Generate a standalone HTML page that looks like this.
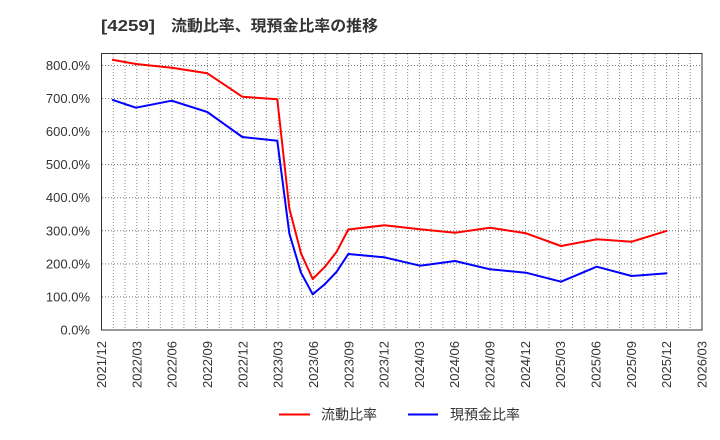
<!DOCTYPE html>
<html><head><meta charset="utf-8"><style>
html,body{margin:0;padding:0;background:#fff;}
svg{display:block;}
text{font-family:"Liberation Sans","Noto Sans CJK JP",sans-serif;fill:#333;}
</style></head><body>
<svg width="720" height="440" viewBox="0 0 720 440" xmlns="http://www.w3.org/2000/svg">
<rect width="720" height="440" fill="#fff"/>
<text x="101" y="31" font-size="16" font-weight="bold" textLength="54" lengthAdjust="spacingAndGlyphs">[4259]</text>
<text x="171" y="31" font-size="15.5" font-weight="bold" textLength="207" lengthAdjust="spacingAndGlyphs">流動比率、現預金比率の推移</text>
<g id="grid"></g>
<g id="lbl"></g>
<rect x="101.5" y="53.5" width="600.5" height="276.5" fill="none" stroke="#333" stroke-width="1"/>
<polyline fill="none" stroke="#ff0000" stroke-width="2" stroke-linejoin="round" points="112,59.7 136,64 171.7,67.7 207.3,73.3 242.3,96.7 277.3,99.3 289.3,208.3 301,253.3 312.7,279 325,266.7 336.7,251.7 348.3,229.5 384.3,225.3 420,229.3 455,232.7 490,227.7 526,233.3 561,246 596.7,239.3 631.7,241.7 667.3,230.7"/>
<polyline fill="none" stroke="#0000ff" stroke-width="2" stroke-linejoin="round" points="112,99.7 136,107.7 171.7,100.7 207.3,112 242.3,137 277.3,140.7 289.3,233.3 301,272.7 312.7,294.3 325,284 336.7,271.7 348.3,254 384.3,257.3 420,265.7 455,261 490,269.3 526,272.7 561,281.7 596.7,266.7 631.7,276 667.3,273.3"/>
<line x1="279" y1="414.5" x2="310" y2="414.5" stroke="#ff0000" stroke-width="2"/>
<text x="321" y="419.5" font-size="14">流動比率</text>
<line x1="408" y1="414.5" x2="438" y2="414.5" stroke="#0000ff" stroke-width="2"/>
<text x="450" y="419.5" font-size="14">現預金比率</text>
</svg>
<script>
(function(){
var ns="http://www.w3.org/2000/svg";
var g=document.getElementById("grid"),l=document.getElementById("lbl");
function el(t,a,p,txt){var e=document.createElementNS(ns,t);for(var k in a)e.setAttribute(k,a[k]);if(txt)e.textContent=txt;p.appendChild(e);return e;}
var x0=101.5,dx=600.5/51;
for(var i=1;i<51;i++){var x=x0+i*dx;el("line",{x1:x,y1:54,x2:x,y2:330,stroke:"#888","stroke-width":1,"stroke-dasharray":"1,2"},g);}
var y0=330,dy=33.07;
for(var j=1;j<=8;j++){var y=y0-j*dy;el("line",{x1:102,y1:y,x2:702,y2:y,stroke:"#777","stroke-width":1,"stroke-dasharray":"1,2"},g);}
for(var j=0;j<=8;j++){var y=y0-j*dy;el("text",{x:90,y:y+4.5,"font-size":13,"text-anchor":"end"},l,(j*100)+".0%");}
var yr=2021,mo=12;
for(var q=0;q<18;q++){var x=x0+q*3*dx;var s=yr+"/"+(mo<10?"0"+mo:mo);
el("text",{transform:"translate("+(x+4.5)+",341) rotate(-90)","font-size":13,"text-anchor":"end"},l,s);
mo+=3;if(mo>12){mo-=12;yr++;}}
})();
</script>
</body></html>
